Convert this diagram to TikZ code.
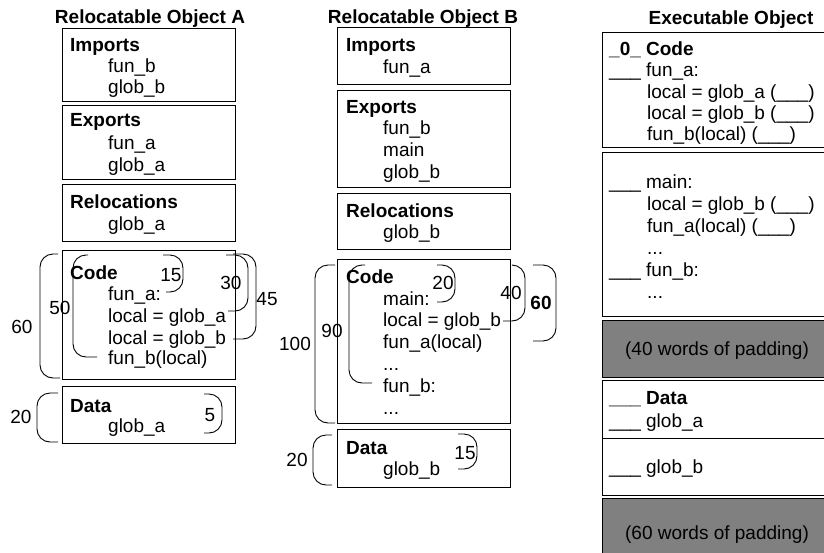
\documentclass[tikz,border=0pt]{standalone}
\usepackage{fontspec}
\setmainfont{Liberation Sans}
\newcommand\fsz{\fontsize{19}{22}\selectfont}
\definecolor{padgray}{RGB}{128,128,128}
% bracket: top end x, bottom end x, spine x, top y, bottom y
\newcommand\brk[5]{\draw[brak] (#1,#4) -- (#3,#4) -- (#3,#5) -- (#2,#5);}
\tikzset{
  lbl/.style={inner sep=0pt, font=\fsz, text height=0.72em, text depth=0.2em, yshift=-4pt},
  txt/.style={lbl, anchor=west},
  hd/.style={txt, font=\fsz\bfseries},
  ttl/.style={lbl, font=\fsz\bfseries},
  num/.style={lbl},
  box/.style={draw=black, line width=1pt},
  pad/.style={box, fill=padgray},
  brak/.style={draw=black, line width=0.9pt, rounded corners=13pt},
}
\begin{document}
\begin{tikzpicture}[x=1pt,y=-1pt]
\useasboundingbox (0,0) rectangle (824,552);
\clip (0,0) rectangle (824,552);

% ---------------- Relocatable object A ----------------
\node[ttl] (tA) at (150,17) {Relocatable Object A};
\draw[box] (62,28) rectangle (235,101);
\draw[box] (62,105) rectangle (235,179);
\draw[box] (62,184) rectangle (235,241);
\draw[box] (62,250) rectangle (235,379);
\draw[box] (62,386) rectangle (235,443);

\node[hd]  (aImp)  at (70,45)  {Imports};
\node[txt] (aImp1) at (108,66) {fun\_b};
\node[txt] (aImp2) at (108,87) {glob\_b};
\node[hd]  (aExp)  at (70,120) {Exports};
\node[txt] (aExp1) at (108,143) {fun\_a};
\node[txt] (aExp2) at (108,165) {glob\_a};
\node[hd]  (aRel)  at (70,202) {Relocations};
\node[txt] (aRel1) at (108,224) {glob\_a};
\node[hd]  (aCode) at (70,273) {Code};
\node[txt] (aC1) at (108,294) {fun\_a:};
\node[txt] (aC2) at (108,316) {local = glob\_a};
\node[txt] (aC3) at (108,338) {local = glob\_b};
\node[txt] (aC4) at (108,358) {fun\_b(local)};
\node[hd]  (aData) at (70,406) {Data};
\node[txt] (aD1) at (108,426) {glob\_a};

\brk{58}{60}{40}{254}{378}
\brk{88}{97}{73}{255}{357}
\brk{163}{166}{183}{255}{292}
\brk{226}{228}{248}{255}{311}
\brk{233}{233}{256}{254}{339}
\brk{58}{58}{37}{393}{442}
\brk{204}{204}{222}{394}{433}
\node[num] (a60) at (22,327) {60};
\node[num] (a50) at (60,308) {50};
\node[num] (a15) at (171,275) {15};
\node[num] (a30) at (231,283) {30};
\node[num] (a45) at (267,299) {45};
\node[num] (a20) at (21,417) {20};
\node[num] (a5)  at (210,415) {5};

% ---------------- Relocatable object B ----------------
\node[ttl] (tB) at (423,17) {Relocatable Object B};
\draw[box] (337,27) rectangle (510,84);
\draw[box] (337,90) rectangle (510,187);
\draw[box] (337,193) rectangle (510,249);
\draw[box] (337,259) rectangle (510,423);
\draw[box] (337,429) rectangle (510,487);

\node[hd]  (bImp)  at (346,45)  {Imports};
\node[txt] (bImp1) at (383,67)  {fun\_a};
\node[hd]  (bExp)  at (346,107) {Exports};
\node[txt] (bExp1) at (383,128) {fun\_b};
\node[txt] (bExp2) at (383,150) {main};
\node[txt] (bExp3) at (383,172) {glob\_b};
\node[hd]  (bRel)  at (346,211) {Relocations};
\node[txt] (bRel1) at (383,232) {glob\_b};
\node[hd]  (bCode) at (346,277) {Code};
\node[txt] (bC1) at (383,299) {main:};
\node[txt] (bC2) at (383,320) {local = glob\_b};
\node[txt] (bC3) at (383,342) {fun\_a(local)};
\node[txt] (bC4) at (383,364) {...};
\node[txt] (bC5) at (383,386) {fun\_b:};
\node[txt] (bC6) at (383,408) {...};
\node[hd]  (bData) at (346,448) {Data};
\node[txt] (bD1) at (383,469) {glob\_b};

\brk{335}{335}{315}{265}{423}
\brk{365}{372}{349}{265}{383}
\brk{437}{437}{455}{265}{302}
\brk{513}{503}{525}{265}{321}
\brk{533}{533}{556}{265}{341}
\brk{332}{332}{313}{435}{485}
\brk{458}{458}{477}{434}{469}
\node[num] (b100) at (295,344) {100};
\node[num] (b90)  at (332,331) {90};
\node[num] (b20)  at (443,283) {20};
\node[num] (b40)  at (511,293) {40};
\node[num, font=\fsz\bfseries] (b60) at (541,303) {60};
\node[num] (b20d) at (297,460) {20};
\node[num] (b15)  at (465,453) {15};

% ---------------- Executable object ----------------
\node[ttl] (tE) at (731,18) {Executable Object};
\draw[box] (602,32) rectangle (832,147);
\draw[box] (602,152) rectangle (832,316);
\draw[pad] (602,320) rectangle (832,377);
\draw[box] (602,380) rectangle (832,438);
\draw[box] (602,438) rectangle (832,495);
\draw[pad] (602,498) rectangle (832,560);

\node[hd]  (eCode) at (609,49)  {\_0\_ Code};
\node[txt] (eC1) at (609,70)  {\_\_\_ fun\_a:};
\node[txt] (eC2) at (647,92)  {local = glob\_a (\_\_\_)};
\node[txt] (eC3) at (647,113) {local = glob\_b (\_\_\_)};
\node[txt] (eC4) at (647,134) {fun\_b(local) (\_\_\_)};
\node[txt] (eM1) at (609,182) {\_\_\_ main:};
\node[txt] (eM2) at (647,204) {local = glob\_b (\_\_\_)};
\node[txt] (eM3) at (647,226) {fun\_a(local) (\_\_\_)};
\node[txt] (eM4) at (647,248) {...};
\node[txt] (eM5) at (609,270) {\_\_\_ fun\_b:};
\node[txt] (eM6) at (647,292) {...};
\node[num] (ePad1) at (717,349) {(40 words of padding)};
\node[hd]  (eData) at (609,398) {\_\_\_ Data};
\node[txt] (eD1) at (609,421) {\_\_\_ glob\_a};
\node[txt] (eD2) at (609,467) {\_\_\_ glob\_b};
\node[num] (ePad2) at (717,533) {(60 words of padding)};
\end{tikzpicture}
\end{document}
